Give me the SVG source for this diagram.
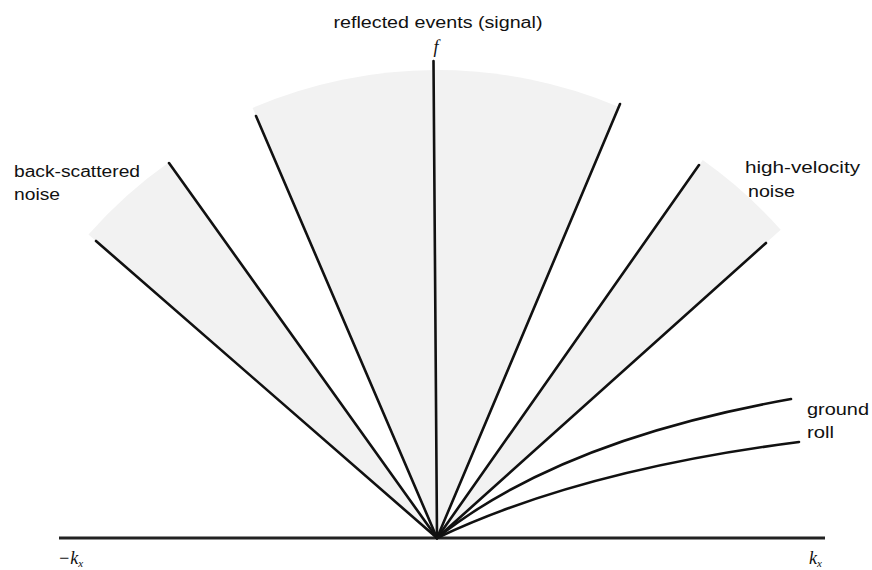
<svg xmlns="http://www.w3.org/2000/svg" width="872" height="570" viewBox="0 0 872 570">
  <defs>
    <style>
      .ray { stroke: #111; stroke-width: 2.6; fill: none; stroke-linecap: round; }
      .axis { stroke: #222; stroke-width: 2.8; fill: none; }
      .wedge { fill: #f2f2f2; stroke: none; }
      .lbl { font-family: "Liberation Sans", Arial, sans-serif; font-size: 16px; fill: #111; }
      .math { font-family: "Liberation Serif", "Times New Roman", serif; font-style: italic; font-size: 18px; fill: #111; }
    </style>
  </defs>
  <rect width="872" height="570" fill="#ffffff"/>

  <g id="shading">
    <path class="wedge" d="M437,538 L88.5,234.4 A462,462 0 0 1 168.6,162.4 Z"/>
    <path class="wedge" d="M437,538 L252.6,107.9 A468,468 0 0 1 619,107 Z"/>
    <path class="wedge" d="M437,538 L702.7,160.1 A462,462 0 0 1 780.7,229.8 Z"/>
  </g>

  <g id="connectors">
    <line class="axis" x1="59" y1="538" x2="825" y2="538"/>
    <line class="ray" x1="437" y1="538" x2="96" y2="241"/>
    <line class="ray" x1="437" y1="538" x2="169" y2="163"/>
    <line class="ray" x1="437" y1="538" x2="256" y2="116"/>
    <line class="ray" x1="437" y1="538" x2="433.5" y2="61"/>
    <line class="ray" x1="437" y1="538" x2="620" y2="104"/>
    <line class="ray" x1="437" y1="538" x2="699" y2="165"/>
    <line class="ray" x1="437" y1="538" x2="766" y2="243"/>
    <path class="ray" d="M437,538 Q560,440 791,399"/>
    <path class="ray" d="M437,538 Q580,470 799,442"/>
  </g>

  <g id="label-signal">
    <text class="lbl" x="438" y="28" text-anchor="middle" textLength="209" lengthAdjust="spacingAndGlyphs">reflected events (signal)</text>
    <text class="math" x="436" y="53" text-anchor="middle" font-size="16">f</text>
  </g>
  <g id="label-backscatter">
    <text class="lbl" x="14" y="177" textLength="126" lengthAdjust="spacingAndGlyphs">back-scattered</text>
    <text class="lbl" x="14" y="200" textLength="46" lengthAdjust="spacingAndGlyphs">noise</text>
  </g>
  <g id="label-highvel">
    <text class="lbl" x="745" y="173" textLength="115" lengthAdjust="spacingAndGlyphs">high-velocity</text>
    <text class="lbl" x="748" y="197" textLength="47" lengthAdjust="spacingAndGlyphs">noise</text>
  </g>
  <g id="label-groundroll">
    <text class="lbl" x="807" y="415" textLength="62" lengthAdjust="spacingAndGlyphs">ground</text>
    <text class="lbl" x="807" y="438" textLength="27" lengthAdjust="spacingAndGlyphs">roll</text>
  </g>
  <g id="label-axis">
    <text class="math" x="58" y="564">−k<tspan font-size="11" dy="3">x</tspan></text>
    <text class="math" x="809" y="564">k<tspan font-size="11" dy="3">x</tspan></text>
  </g>
</svg>
